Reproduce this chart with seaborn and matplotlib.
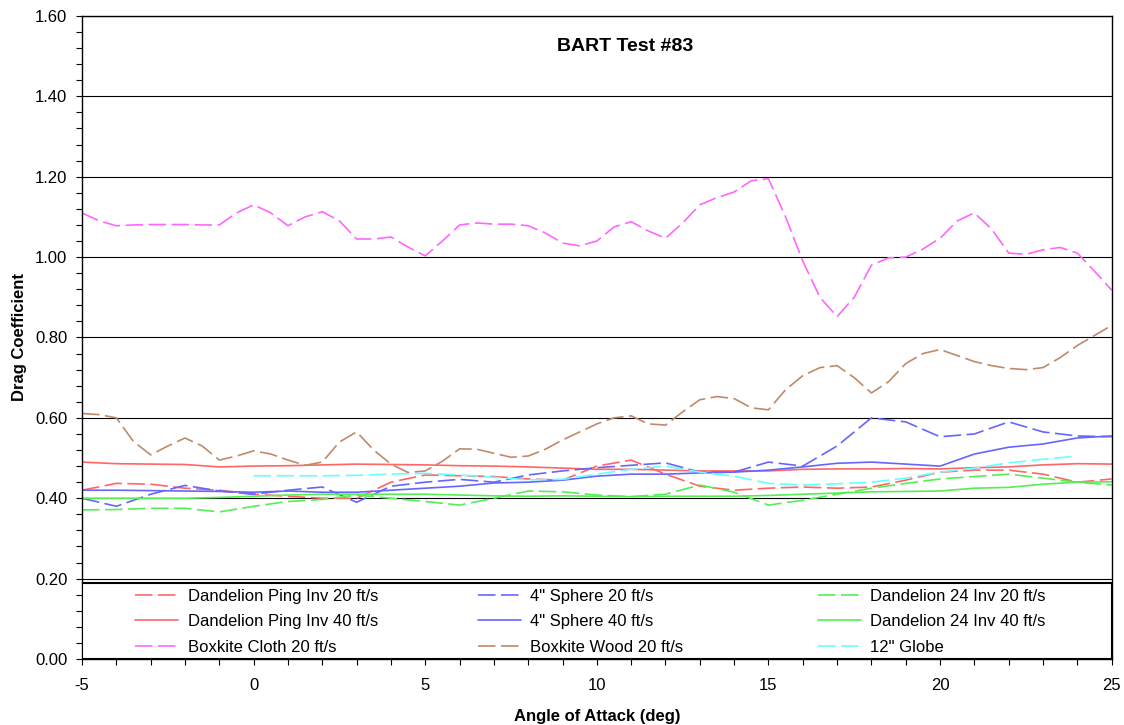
import numpy as np
import matplotlib
matplotlib.use("Agg")
import matplotlib.pyplot as plt
import seaborn as sns
from matplotlib.patches import Rectangle
from matplotlib.ticker import MultipleLocator, FormatStrFormatter

# style first, fonts after (set_style resets font.family)
sns.set_style("ticks")
plt.rcParams["font.family"] = ["Liberation Sans", "DejaVu Sans"]
plt.rcParams["axes.unicode_minus"] = False
plt.rcParams["text.color"] = "black"
plt.rcParams["axes.labelcolor"] = "black"

# ---- data ----
aoa = list(range(-5, 26))
aoa_half = list(np.arange(-5, 25.5, 0.5))
globe_aoa = list(range(0, 25))

ping_inv_20 = [0.420, 0.437, 0.435, 0.425, 0.420, 0.410, 0.405, 0.400, 0.400, 0.440,
               0.458, 0.456, 0.454, 0.448, 0.445, 0.480, 0.495, 0.460, 0.430, 0.420,
               0.425, 0.428, 0.425, 0.428, 0.445, 0.465, 0.470, 0.470, 0.460, 0.440, 0.448]
ping_inv_40 = [0.490, 0.486, 0.485, 0.484, 0.478, 0.480, 0.481, 0.483, 0.485, 0.484,
               0.483, 0.481, 0.480, 0.478, 0.475, 0.472, 0.472, 0.470, 0.468, 0.468,
               0.468, 0.472, 0.473, 0.473, 0.474, 0.473, 0.476, 0.478, 0.483, 0.486, 0.485]
sphere_20 = [0.400, 0.380, 0.410, 0.432, 0.418, 0.410, 0.420, 0.428, 0.390, 0.430,
             0.440, 0.447, 0.440, 0.458, 0.468, 0.476, 0.482, 0.488, 0.465, 0.465,
             0.490, 0.480, 0.530, 0.600, 0.590, 0.553, 0.560, 0.590, 0.565, 0.555, 0.553]
sphere_40 = [0.420, 0.420, 0.419, 0.418, 0.417, 0.415, 0.418, 0.415, 0.415, 0.420,
             0.425, 0.430, 0.438, 0.440, 0.445, 0.455, 0.460, 0.460, 0.463, 0.465,
             0.470, 0.478, 0.487, 0.490, 0.485, 0.480, 0.510, 0.527, 0.535, 0.550, 0.555]
d24_inv_20 = [0.371, 0.372, 0.375, 0.375, 0.366, 0.380, 0.392, 0.397, 0.408, 0.400,
              0.392, 0.383, 0.400, 0.418, 0.416, 0.408, 0.404, 0.410, 0.433, 0.415,
              0.383, 0.395, 0.410, 0.425, 0.437, 0.448, 0.454, 0.460, 0.450, 0.440, 0.433]
d24_inv_40 = [0.400, 0.400, 0.400, 0.400, 0.402, 0.405, 0.408, 0.410, 0.410, 0.410,
              0.410, 0.408, 0.406, 0.405, 0.406, 0.405, 0.404, 0.405, 0.405, 0.405,
              0.407, 0.410, 0.413, 0.416, 0.417, 0.418, 0.425, 0.427, 0.435, 0.440, 0.441]
boxkite_cloth = [1.110, 1.090, 1.078, 1.080, 1.081, 1.081, 1.081, 1.080, 1.080, 1.110,
                 1.130, 1.110, 1.078, 1.100, 1.113, 1.090, 1.045, 1.045, 1.050, 1.025,
                 1.003, 1.040, 1.080, 1.085, 1.082, 1.082, 1.078, 1.060, 1.035, 1.028,
                 1.040, 1.075, 1.088, 1.065, 1.047, 1.085, 1.130, 1.148, 1.162, 1.190,
                 1.195, 1.100, 0.990, 0.900, 0.852, 0.900, 0.980, 0.998, 1.000, 1.020,
                 1.047, 1.090, 1.110, 1.070, 1.010, 1.007, 1.018, 1.024, 1.010, 0.965, 0.918]
boxkite_wood = [0.611, 0.608, 0.600, 0.541, 0.508, 0.530, 0.550, 0.530, 0.495, 0.505,
                0.518, 0.510, 0.495, 0.482, 0.490, 0.540, 0.565, 0.520, 0.485, 0.464,
                0.468, 0.492, 0.523, 0.522, 0.512, 0.502, 0.505, 0.522, 0.545, 0.565,
                0.585, 0.600, 0.605, 0.585, 0.582, 0.615, 0.645, 0.653, 0.648, 0.625,
                0.620, 0.670, 0.705, 0.725, 0.730, 0.700, 0.662, 0.690, 0.735, 0.760,
                0.770, 0.755, 0.740, 0.730, 0.723, 0.720, 0.725, 0.750, 0.780, 0.805, 0.830]
globe_12 = [0.456, 0.456, 0.456, 0.457, 0.460, 0.462, 0.458, 0.452, 0.446, 0.447,
            0.460, 0.472, 0.480, 0.465, 0.455, 0.437, 0.433, 0.436, 0.440, 0.450,
            0.465, 0.475, 0.488, 0.497, 0.505]

DASH = (0, (10.5, 3.3))
series = [
    ("Dandelion Ping Inv 20 ft/s", aoa, ping_inv_20, "#FF6666", DASH),
    ("Dandelion Ping Inv 40 ft/s", aoa, ping_inv_40, "#FF6666", "-"),
    ("Boxkite Cloth 20 ft/s", aoa_half, boxkite_cloth, "#FF66FF", DASH),
    ('4" Sphere 20 ft/s', aoa, sphere_20, "#6666FF", DASH),
    ('4" Sphere 40 ft/s', aoa, sphere_40, "#6666FF", "-"),
    ("Boxkite Wood 20 ft/s", aoa_half, boxkite_wood, "#C08A6A", DASH),
    ("Dandelion 24 Inv 20 ft/s", aoa, d24_inv_20, "#55EE55", DASH),
    ("Dandelion 24 Inv 40 ft/s", aoa, d24_inv_40, "#55EE55", "-"),
    ('12" Globe', globe_aoa, globe_12, "#66FFFF", DASH),
]

fig = plt.figure(figsize=(11.24, 7.25), dpi=100)
ax = fig.add_axes([0.073, 0.091, 0.916, 0.887])

for label, xs, ys, color, ls in series:
    sns.lineplot(x=xs, y=ys, ax=ax, color=color, linestyle=ls, linewidth=1.2,
                 label=label, legend=False)

ax.set_xlim(-5, 25)
ax.set_ylim(0, 1.6)
ax.xaxis.set_major_locator(MultipleLocator(5))
ax.xaxis.set_minor_locator(MultipleLocator(1))
ax.yaxis.set_major_locator(MultipleLocator(0.2))
ax.yaxis.set_minor_locator(MultipleLocator(0.04))
ax.yaxis.set_major_formatter(FormatStrFormatter("%.2f"))
ax.tick_params(which="both", direction="out", length=4, width=0.8, color="black",
               labelsize=12, labelcolor="black")
ax.tick_params(axis="x", pad=9.5)
ax.tick_params(axis="y", pad=6.5)
ax.yaxis.grid(True, color="black", linewidth=0.8)
ax.set_axisbelow(True)
for sp in ax.spines.values():
    sp.set_color("black")
    sp.set_linewidth(1.0)

ax.set_xlabel("Angle of Attack (deg)", fontsize=12, fontweight="bold", labelpad=12)
ax.set_ylabel("Drag Coefficient", fontsize=12, fontweight="bold", labelpad=6)
ax.text(0.527, 0.952, "BART Test #83", transform=ax.transAxes, ha="center", va="center",
        fontsize=14, fontweight="bold", color="black")

# legend box across the bottom of the plot area
ax.add_patch(Rectangle((0, 0), 1, 0.19 / 1.6, transform=ax.transAxes, facecolor="white",
                       edgecolor="black", linewidth=1.5, zorder=3))

handles, labels = ax.get_legend_handles_labels()
col_x = [0.0515, 0.3845, 0.7146]
for i, cx in enumerate(col_x):
    leg = ax.legend(handles[3 * i:3 * i + 3], labels[3 * i:3 * i + 3], loc="upper left",
                    bbox_to_anchor=(cx, 0.1096), frameon=False, fontsize=12,
                    borderpad=0, borderaxespad=0, handlelength=2.6, handletextpad=0.55,
                    labelspacing=0.64)
    leg.set_zorder(5)
    for t in leg.get_texts():
        t.set_color("black")
    if i < 2:
        ax.add_artist(leg)

fig.savefig("out.png", dpi=100)
